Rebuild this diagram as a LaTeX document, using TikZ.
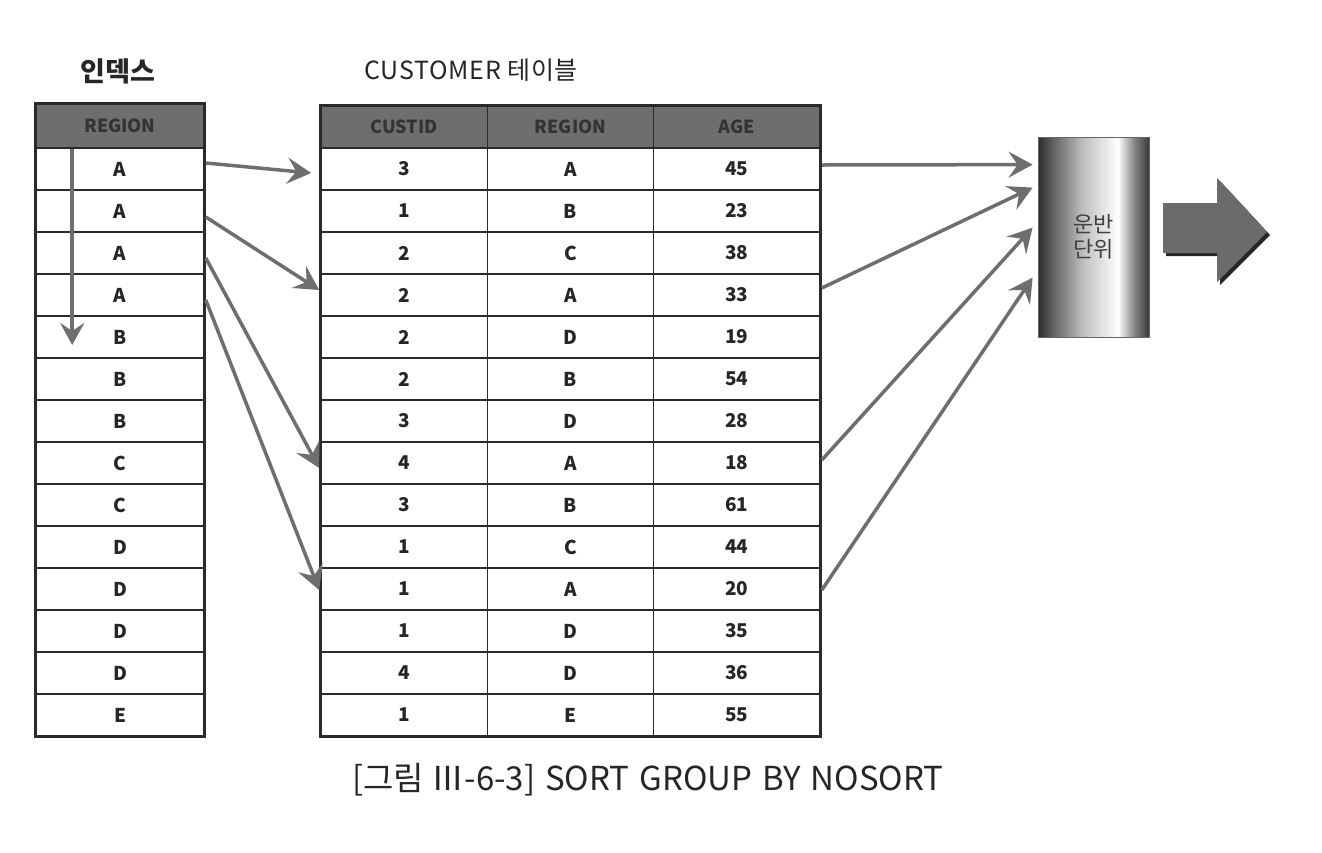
\documentclass[tikz,border=0pt]{standalone}
\usepackage{fontspec}
\setmainfont{Noto Sans CJK KR}
\usetikzlibrary{arrows.meta,calc}
\definecolor{hdrfill}{HTML}{6E6E6E}
\definecolor{hdrtext}{HTML}{333333}
\definecolor{arrowgray}{HTML}{6E6E6E}
\definecolor{gridline}{HTML}{2A2A2A}
\definecolor{cA}{HTML}{2C2C2C}
\definecolor{cB}{HTML}{6A6A6A}
\definecolor{cC}{HTML}{BEBEBE}
\definecolor{cD}{HTML}{FFFFFF}
\definecolor{cE}{HTML}{8A8A8A}
\definecolor{cF}{HTML}{383838}
\pgfdeclarehorizontalshading{cylshade}{100bp}{color(0bp)=(cA); color(25bp)=(cA); color(33bp)=(cB); color(45bp)=(cC); color(61bp)=(cD); color(68bp)=(cE); color(75bp)=(cF); color(100bp)=(cF)}
\tikzset{
  cell/.style={draw=gridline, line width=1.6pt, inner sep=0pt, minimum height=42pt,
    font=\bfseries\fontsize{19}{19}\selectfont, text=black!85},
  hdr/.style={cell, fill=hdrfill, text=hdrtext, font=\bfseries\fontsize{18}{18}\selectfont},
  outer/.style={draw=gridline, line width=3pt},
  link/.style={draw=arrowgray, line width=3.5pt, -{Stealth[length=24pt,width=26pt,inset=9pt]}},
}
\begin{document}
\begin{tikzpicture}[x=1pt,y=-1pt]
\useasboundingbox (0,0) rectangle (1322,852);
% titles
\node[font=\bfseries\fontsize{27}{27}\selectfont, anchor=center, text=black!85] (tidx) at (118,71) {인덱스};
\node[font=\fontsize{25}{25}\selectfont\addfontfeature{LetterSpace=3}, anchor=center, text=black!85] (tcust) at (471,70) {CUSTOMER 테이블};
% index table
\node[hdr, minimum width=168pt, minimum height=44pt] (ih) at (120,126) {REGION};
\foreach \v [count=\i] in {A,A,A,A,B,B,B,C,C,D,D,D,D,E}{
  \node[cell, minimum width=168pt] (i\i) at (120,{148+42*\i-21}) {\v};
}
\draw[outer] (ih.north west) rectangle (i14.south east);
% customer table
\node[hdr, minimum width=166.33pt] (cha) at (404.17,127) {CUSTID};
\node[hdr, minimum width=166.33pt] (chb) at (570.5,127) {REGION};
\node[hdr, minimum width=166.33pt] (chc) at (736.83,127) {AGE};
\foreach \a/\b/\c [count=\i] in {3/A/45,1/B/23,2/C/38,2/A/33,2/D/19,2/B/54,3/D/28,4/A/18,3/B/61,1/C/44,1/A/20,1/D/35,4/D/36,1/E/55}{
  \node[cell, minimum width=166.33pt] (c\i a) at (404.17,{148+42*\i-21}) {\a};
  \node[cell, minimum width=166.33pt] (c\i b) at (570.5,{148+42*\i-21}) {\b};
  \node[cell, minimum width=166.33pt] (c\i c) at (736.83,{148+42*\i-21}) {\c};
}
\draw[outer] (cha.north west) rectangle (c14c.south east);
% index scan arrow
\coordinate (scanS) at ($(ih.south west)+(37,0)$);
\coordinate (scanE) at ($(i5.west)+(37,8)$);
\draw[link, -{Stealth[length=22pt,width=24pt,inset=8pt]}] (scanS) -- (scanE);
% cylinder
\node[draw=black!60, line width=0.8pt, shading=cylshade, minimum width=111pt, minimum height=200pt, inner sep=0pt,
  font=\fontsize{22}{25}\selectfont, text=black!75, align=center] (cyl) at (1093.5,237) {운반\\단위};
% big arrow
\coordinate (ba) at (1163,203);
\fill[black!85] ($(ba)+(3,3)$) -- ++(54,0) -- ++(0,-25) -- ++(50,54) -- ++(-50,50) -- ++(0,-29) -- ++(-54,0) -- cycle;
\fill[black!58] (ba) -- ++(54,0) -- ++(0,-25) -- ++(50,54) -- ++(-50,50) -- ++(0,-29) -- ++(-54,0) -- cycle;
% links index -> table
\draw[link] ($(i1.east)+(1,-6)$) -- ($(c1a.west)+(-9,4)$);
\draw[link] ($(i2.east)+(1,6)$) -- ($(c4a.west)+(-1,-5)$);
\draw[link] ($(i3.east)+(1,5)$) -- ($(c8a.west)+(-1,5)$);
\draw[link] ($(i4.east)+(1,5)$) -- ($(c11a.west)+(-1,1)$);
% links table -> cylinder
\draw[link] ($(c1c.east)+(1,-4)$) -- ($(cyl.north west)+(-5,28)$);
\draw[link] ($(c4c.east)+(1,-7)$) -- ($(cyl.north west)+(-5,51)$);
\draw[link] ($(c8c.east)+(1,-3)$) -- ($(cyl.north west)+(-5,91)$);
\draw[link] ($(c11c.east)+(1,1)$) -- ($(cyl.north west)+(-5,141)$);
% caption
\node[font=\fontsize{33}{33}\selectfont, text=black!85] (cap) at (648,780) {[그림 Ⅲ-6-3]\hspace{0.3em}SORT\hspace{0.3em}GROUP\hspace{0.3em}BY\hspace{0.3em}NOSORT};
\end{tikzpicture}
\end{document}
